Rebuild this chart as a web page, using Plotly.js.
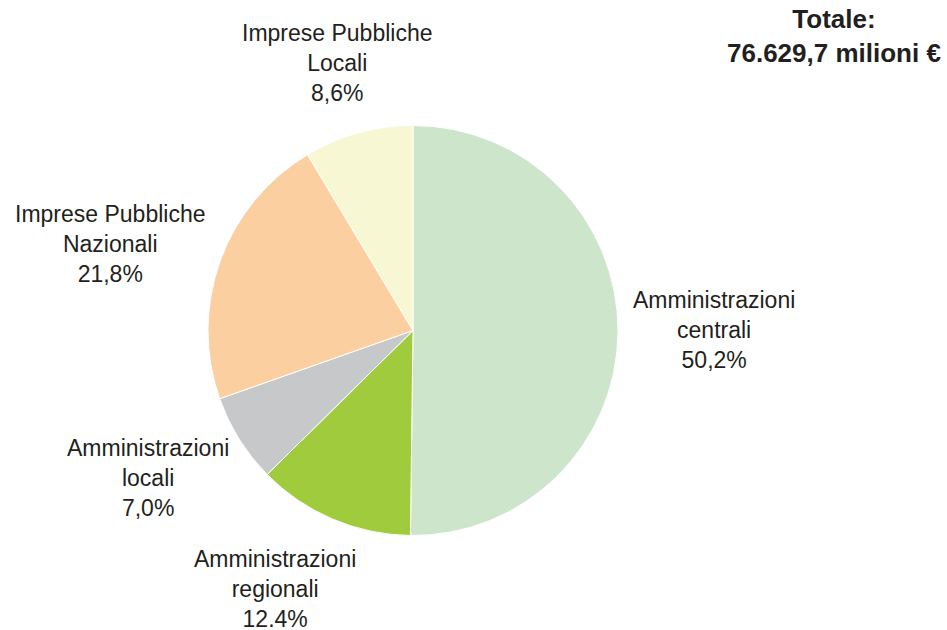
<!DOCTYPE html>
<html>
<head>
<meta charset="utf-8">
<script src="https://cdn.plot.ly/plotly-3.0.1.min.js"></script>
<style>
  html, body { margin: 0; padding: 0; background: #fff; }
  #pieChart { width: 947px; height: 630px; }
</style>
</head>
<body>
<div id="pieChart"></div>
<script>
// clockwise from 12 o'clock
var sliceNames = ['Amministrazioni centrali', 'Amministrazioni regionali', 'Amministrazioni locali',
    'Imprese Pubbliche Nazionali', 'Imprese Pubbliche Locali'];
var sliceShares = [50.2, 12.4, 7.0, 21.8, 8.6];
var sliceLabels = ['Amministrazioni<br>centrali<br>50,2%', 'Amministrazioni<br>regionali<br>12.4%',
    'Amministrazioni<br>locali<br>7,0%', 'Imprese Pubbliche<br>Nazionali<br>21,8%',
    'Imprese Pubbliche<br>Locali<br>8,6%'];
var sliceColors = ['#cce5cb', '#9fcb3c', '#c7c8ca', '#fccfa0', '#f8f7d3'];
var totalText = 'Totale:<br>76.629,7 milioni €';

// label anchor positions in paper coords
var labelPos = [[714, 330], [275, 589], [148, 478], [110, 244], [337, 63]];

function renderPieChart() {
    var W = 947, H = 630;
    var pieData = [{
        type: 'pie',
        values: sliceShares,
        labels: sliceNames,
        sort: false,
        direction: 'clockwise',
        rotation: 0,
        textinfo: 'none',
        hoverinfo: 'label+percent',
        marker: { colors: sliceColors, line: { color: '#ffffff', width: 1 } },
        domain: { x: [208 / W, 618 / W], y: [1 - 536 / H, 1 - 125 / H] },
        showlegend: false
    }];

    var annotations = sliceLabels.map(function (txt, i) {
        return {
            xref: 'paper', yref: 'paper',
            x: labelPos[i][0] / W, y: 1 - labelPos[i][1] / H,
            text: txt, showarrow: false, align: 'center',
            xanchor: 'center', yanchor: 'middle',
            font: { family: 'Liberation Sans, Arial, sans-serif', size: 23, color: '#231f20' }
        };
    });
    annotations.push({
        xref: 'paper', yref: 'paper',
        x: 834 / W, y: 1 - 36 / H,
        text: '<b>' + totalText + '</b>', showarrow: false, align: 'center',
        xanchor: 'center', yanchor: 'middle',
        font: { family: 'Liberation Sans, Arial, sans-serif', size: 26, color: '#231f20' }
    });

    var pieLayout = {
        width: W, height: H,
        margin: { l: 0, r: 0, t: 0, b: 0 },
        paper_bgcolor: '#ffffff',
        annotations: annotations
    };

    Plotly.newPlot('pieChart', pieData, pieLayout, { displayModeBar: false });
}

renderPieChart();
</script>
</body>
</html>
